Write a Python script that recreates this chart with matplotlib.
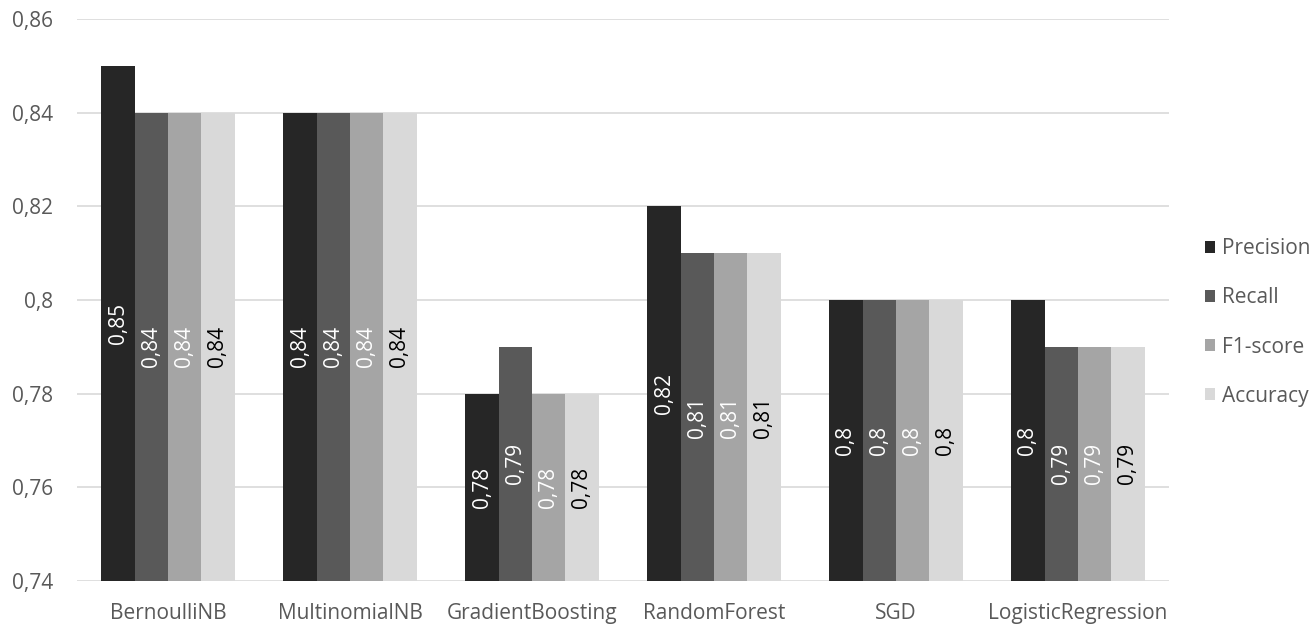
import numpy as np
import matplotlib.pyplot as plt
from matplotlib.ticker import FuncFormatter

plt.rcParams['font.family'] = ['Open Sans', 'DejaVu Sans']

models = ['BernoulliNB', 'MultinomialNB', 'GradientBoosting', 'RandomForest', 'SGD', 'LogisticRegression']
precision = [0.85, 0.84, 0.78, 0.82, 0.80, 0.80]
recall = [0.84, 0.84, 0.79, 0.81, 0.80, 0.79]
f1 = [0.84, 0.84, 0.78, 0.81, 0.80, 0.79]
accuracy = [0.84, 0.84, 0.78, 0.81, 0.80, 0.79]

series = [('Precision', precision, '#262626', 'white'),
          ('Recall', recall, '#595959', 'white'),
          ('F1-score', f1, '#a5a5a5', 'white'),
          ('Accuracy', accuracy, '#d9d9d9', 'black')]

def comma(v, pos=None):
    s = ('%.2f' % v).rstrip('0').rstrip('.')
    return s.replace('.', ',')

fig = plt.figure(figsize=(13.14, 6.24), dpi=100)
ax = fig.add_axes([0.0586, 0.0689, 0.831, 0.9007])

ymin = 0.74
x = np.arange(len(models))
w = 0.183
for i, (name, vals, col, tcol) in enumerate(series):
    pos = x + (i - 1.5) * w
    ax.bar(pos, np.array(vals) - ymin, bottom=ymin, width=w, color=col, label=name, zorder=3)
    # value label in the middle of each bar
    for p, v in zip(pos, vals):
        ax.text(p, (v + ymin) / 2, comma(v), rotation=90, ha='center', va='center',
                color=tcol, fontsize=15, zorder=4)

ax.set_xlim(-0.5, len(models) - 0.5)
ax.set_ylim(0.74, 0.86)
ax.set_yticks(np.arange(0.74, 0.8601, 0.02))
ax.yaxis.set_major_formatter(FuncFormatter(comma))
ax.set_xticks(x)
ax.set_xticklabels(models)
ax.grid(axis='y', color='#d9d9d9', linewidth=1.2, zorder=0)
for s in ax.spines.values():
    s.set_visible(False)
ax.tick_params(axis='both', length=0, labelcolor='#595959', labelsize=15)
ax.tick_params(axis='x', pad=16)
ax.tick_params(axis='y', pad=17)

ax.legend(loc='center left', bbox_to_anchor=(1.025, 0.46), frameon=False, fontsize=15,
          handlelength=0.5, handleheight=0.5, handletextpad=0.35, labelspacing=1.35,
          labelcolor='#595959', borderaxespad=0)

fig.savefig('out.png', dpi=100)
